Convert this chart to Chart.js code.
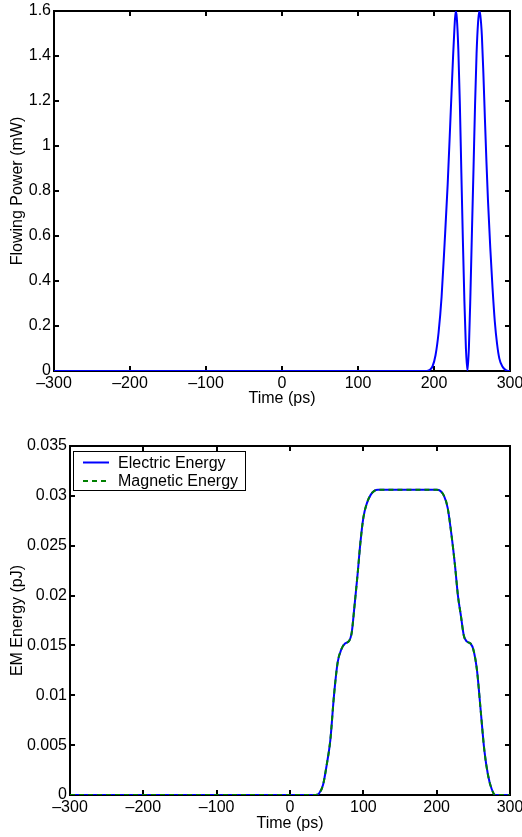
<!DOCTYPE html>
<html>
<head>
<meta charset="utf-8">
<script src="https://cdn.jsdelivr.net/npm/chart.js@4.4.1/dist/chart.umd.min.js"></script>
<style>
  html, body { margin: 0; padding: 0; background: #fff; }
  #wrap { position: relative; width: 522px; height: 837px; }
  canvas { position: absolute; left: 0; }
  #powerChart { top: 0; }
  #energyChart { top: 418px; }
</style>
</head>
<body>
<div id="wrap">
  <canvas id="powerChart" width="522" height="418"></canvas>
  <canvas id="energyChart" width="522" height="419"></canvas>
</div>
<script>
// Datos
const xTicks = [-300, -200, -100, 0, 100, 200, 300];

// Potencia (mW) vs tiempo (ps)
const powerTime = [-300, 190, 194, 198, 202, 206, 210, 214, 218, 222, 225, 227, 228.6, 230, 232, 234, 236, 238, 240, 242, 244,
  246, 248, 250, 252, 254, 256, 258, 259.6, 261, 263, 265, 267, 269, 271, 274, 277, 280, 283, 286, 290, 294, 298, 300];
const powerValue = [0, 0, 0.004, 0.02, 0.07, 0.17, 0.33, 0.57, 0.83, 1.15, 1.39, 1.53, 1.6, 1.57, 1.43, 1.19, 0.88, 0.58, 0.31, 0.10, 0,
  0.11, 0.35, 0.63, 0.90, 1.18, 1.41, 1.55, 1.6, 1.58, 1.49, 1.32, 1.12, 0.93, 0.76, 0.55, 0.37, 0.22, 0.12, 0.055, 0.02, 0.005, 0, 0];

// Energia EM (pJ) vs tiempo (ps)
const energyTime = [-300, 35, 40, 45, 50, 55, 60, 65, 70, 75, 80, 84, 88, 92, 96, 100, 105, 110, 115, 120,
  200, 205, 210, 215, 220, 225, 229, 233, 237, 241, 246, 250, 255, 260, 265, 270, 275, 280, 300];
const electricEnergy = [0, 0, 0.0002, 0.001, 0.003, 0.0055, 0.0100, 0.0133, 0.0146, 0.0152, 0.0154, 0.0162, 0.019, 0.022, 0.0253, 0.0278, 0.0293, 0.0301, 0.0305, 0.0306,
  0.0306, 0.0305, 0.0300, 0.0288, 0.0262, 0.0230, 0.0200, 0.0180, 0.0160, 0.0154, 0.0152, 0.0146, 0.0125, 0.0085, 0.0045, 0.0020, 0.0006, 0, 0];
const magneticEnergy = [0, 0, 0.0002, 0.001, 0.003, 0.0055, 0.0100, 0.0133, 0.0146, 0.0152, 0.0154, 0.0162, 0.019, 0.022, 0.0253, 0.0278, 0.0293, 0.0301, 0.0305, 0.0306,
  0.0306, 0.0305, 0.0300, 0.0288, 0.0262, 0.0230, 0.0200, 0.0180, 0.0160, 0.0154, 0.0152, 0.0146, 0.0125, 0.0085, 0.0045, 0.0020, 0.0006, 0, 0];

Chart.defaults.font.family = '"Liberation Sans", Arial, Helvetica, sans-serif';
Chart.defaults.font.size = 16;
Chart.defaults.color = '#000';

const toPoints = (xs, ys) => xs.map((x, i) => ({ x, y: ys[i] }));
const fmtTick = (v) => String(+Number(v).toFixed(4)).replace('-', '\u2013');

// Marco estilo MATLAB con ticks hacia adentro
const matlabFrame = {
  id: 'matlabFrame',
  beforeDatasetsDraw(chart) {
    const { ctx, chartArea: a } = chart;
    const x = chart.scales.x, y = chart.scales.y;
    ctx.save();
    ctx.strokeStyle = '#000';
    ctx.lineWidth = 2;
    ctx.strokeRect(a.left, a.top, a.right - a.left, a.bottom - a.top);
    ctx.fillStyle = '#000';
    for (const v of xTicks) {
      const px = Math.round(x.getPixelForValue(v));
      ctx.fillRect(px - 1, a.bottom - 5, 2, 5);
      ctx.fillRect(px - 1, a.top, 2, 5);
    }
    for (const t of y.getTicks()) {
      const py = Math.round(y.getPixelForValue(t.value));
      ctx.fillRect(a.left, py - 1, 5, 2);
      ctx.fillRect(a.right - 5, py - 1, 5, 2);
    }
    ctx.restore();
  }
};

// Leyenda dentro del area del grafico
const boxLegend = {
  id: 'boxLegend',
  afterDraw(chart) {
    const { ctx, chartArea: a } = chart;
    ctx.save();
    ctx.fillStyle = '#fff';
    ctx.strokeStyle = '#000';
    ctx.lineWidth = 1;
    ctx.fillRect(a.left + 3.5, a.top + 5.5, 172, 39);
    ctx.strokeRect(a.left + 3.5, a.top + 5.5, 172, 39);
    ctx.font = '16px "Liberation Sans", Arial, sans-serif';
    ctx.textBaseline = 'middle';
    ctx.fillStyle = '#000';
    chart.data.datasets.forEach((ds, i) => {
      const yy = a.top + 16.5 + i * 18.5;
      ctx.beginPath();
      ctx.strokeStyle = ds.borderColor;
      ctx.lineWidth = 2;
      ctx.setLineDash(ds.borderDash || []);
      ctx.moveTo(a.left + 13, yy);
      ctx.lineTo(a.left + 39, yy);
      ctx.stroke();
      ctx.setLineDash([]);
      ctx.fillText(ds.label, a.left + 48, yy + 1);
    });
    ctx.restore();
  }
};

const xScale = (height, titlePad) => ({
  type: 'linear',
  min: -300,
  max: 300,
  afterBuildTicks: (s) => { s.ticks = xTicks.map(v => ({ value: v })); },
  ticks: { padding: 3, callback: fmtTick, maxRotation: 0, autoSkip: false },
  grid: { display: false, drawTicks: false },
  border: { display: false },
  title: { display: true, text: 'Time (ps)', padding: { top: 0, bottom: titlePad } },
  afterFit: (s) => { s.height = height; s.paddingLeft = 0; s.paddingRight = 0; }
});

const yScale = (max, step, width, label) => ({
  min: 0,
  max,
  ticks: { stepSize: step, padding: 3, callback: fmtTick },
  grid: { display: false, drawTicks: false },
  border: { display: false },
  title: { display: true, text: label, padding: { top: 8.4, bottom: 0 } },
  afterFit: (s) => { s.width = width; s.paddingTop = 0; s.paddingBottom = 0; }
});

new Chart(document.getElementById('powerChart'), {
  type: 'line',
  data: {
    datasets: [{
      label: 'Flowing Power',
      data: toPoints(powerTime, powerValue),
      borderColor: '#0000ff',
      borderWidth: 2,
      pointRadius: 0,
      cubicInterpolationMode: 'monotone'
    }]
  },
  options: {
    responsive: false,
    animation: false,
    layout: { padding: { top: 11, right: 12, left: 0, bottom: 0 } },
    plugins: { legend: { display: false }, tooltip: { enabled: false } },
    scales: {
      x: xScale(47, 10),
      y: yScale(1.6, 0.2, 54, 'Flowing Power (mW)')
    }
  },
  plugins: [matlabFrame]
});

new Chart(document.getElementById('energyChart'), {
  type: 'line',
  data: {
    datasets: [{
      label: 'Electric Energy',
      data: toPoints(energyTime, electricEnergy),
      borderColor: '#0000ff',
      borderWidth: 2,
      pointRadius: 0,
      order: 1,
      cubicInterpolationMode: 'monotone'
    }, {
      label: 'Magnetic Energy',
      data: toPoints(energyTime, magneticEnergy),
      borderColor: '#008000',
      borderWidth: 2,
      borderDash: [5, 4],
      pointRadius: 0,
      order: 0,
      cubicInterpolationMode: 'monotone'
    }]
  },
  options: {
    responsive: false,
    animation: false,
    layout: { padding: { top: 28, right: 12, left: 0, bottom: 0 } },
    plugins: { legend: { display: false }, tooltip: { enabled: false } },
    scales: {
      x: xScale(42, 3.5),
      y: yScale(0.035, 0.005, 70, 'EM Energy (pJ)')
    }
  },
  plugins: [matlabFrame, boxLegend]
});
</script>
</body>
</html>
